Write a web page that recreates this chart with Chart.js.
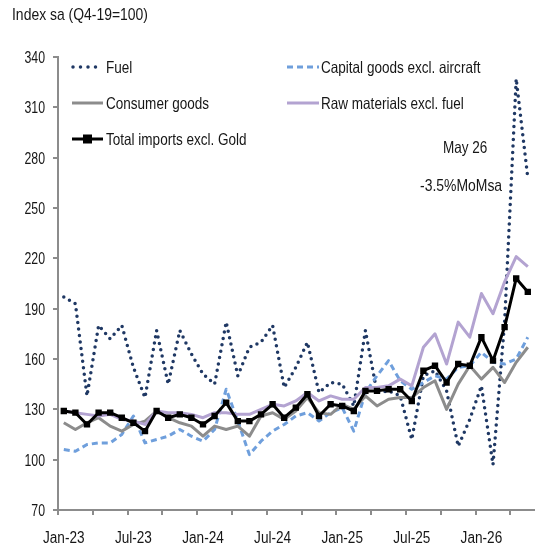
<!DOCTYPE html>
<html>
<head>
<meta charset="utf-8">
<script src="https://cdn.jsdelivr.net/npm/chart.js@4.4.0/dist/chart.umd.min.js"></script>
<style>
  html, body { margin: 0; padding: 0; background: #fff; }
  #wrap { position: relative; width: 540px; height: 551px; overflow: hidden; }
  #chart { position: absolute; left: 0; top: 0; }
  .txt {
    position: absolute;
    font-family: "Liberation Sans", Arial, sans-serif;
    color: #161616;
    white-space: nowrap;
    line-height: 1;
    transform: scaleX(0.82);
    transform-origin: left top;
  }
  .leg svg { position: absolute; }
</style>
</head>
<body>
<div id="wrap">
  <canvas id="chart" width="540" height="551"></canvas>

  <div class="txt" style="left:12px; top:6px; font-size:17px;">Index sa (Q4-19=100)</div>

  <!-- legenda em duas colunas dentro da área do gráfico -->
  <div class="leg">
    <svg style="left:70px; top:61px;" width="36" height="12">
      <line x1="3" y1="6" x2="33" y2="6" stroke="#1f3864" stroke-width="3.5" stroke-linecap="round" stroke-dasharray="0 7.5"/>
    </svg>
    <div class="txt" style="left:106px; top:59px; font-size:16.5px;">Fuel</div>

    <svg style="left:70px; top:97px;" width="36" height="12">
      <line x1="2" y1="6" x2="33" y2="6" stroke="#8c8c8c" stroke-width="3"/>
    </svg>
    <div class="txt" style="left:106px; top:95px; font-size:16.5px;">Consumer goods</div>

    <svg style="left:70px; top:131px;" width="36" height="16">
      <line x1="2" y1="8" x2="33" y2="8" stroke="#000" stroke-width="3"/>
      <rect x="13" y="3.5" width="9" height="9" fill="#000"/>
    </svg>
    <div class="txt" style="left:106px; top:131px; font-size:16.5px;">Total imports excl. Gold</div>

    <svg style="left:285px; top:61px;" width="36" height="12">
      <line x1="2" y1="6" x2="34" y2="6" stroke="#6f9fdc" stroke-width="3" stroke-dasharray="6 4"/>
    </svg>
    <div class="txt" style="left:321px; top:59px; font-size:16.5px;">Capital goods excl. aircraft</div>

    <svg style="left:285px; top:97px;" width="36" height="12">
      <line x1="2" y1="6" x2="34" y2="6" stroke="#b3a3d1" stroke-width="3"/>
    </svg>
    <div class="txt" style="left:321px; top:95px; font-size:16.5px;">Raw materials excl. fuel</div>
  </div>

  <div class="txt" style="left:443px; top:139px; font-size:16.5px;">May 26</div>
  <div class="txt" style="left:420px; top:177px; font-size:17px;">-3.5%MoMsa</div>
</div>

<script>
// ===== Importações por categoria, índice sa (Q4-19=100) =====

const months = [
  'Jan-23', 'Feb-23', 'Mar-23', 'Apr-23', 'May-23', 'Jun-23', 'Jul-23', 'Aug-23', 'Sep-23', 'Oct-23', 'Nov-23', 'Dec-23',
  'Jan-24', 'Feb-24', 'Mar-24', 'Apr-24', 'May-24', 'Jun-24', 'Jul-24', 'Aug-24', 'Sep-24', 'Oct-24', 'Nov-24', 'Dec-24',
  'Jan-25', 'Feb-25', 'Mar-25', 'Apr-25', 'May-25', 'Jun-25', 'Jul-25', 'Aug-25', 'Sep-25', 'Oct-25', 'Nov-25', 'Dec-25',
  'Jan-26', 'Feb-26', 'Mar-26', 'Apr-26', 'May-26'
];

const seriesNames = [
  'Fuel',
  'Capital goods excl. aircraft',
  'Consumer goods',
  'Raw materials excl. fuel',
  'Total imports excl. Gold'
];

const fuel = [
  197, 193, 138, 180, 172, 180, 155, 137, 177, 145, 177, 163,
  151, 145, 182, 150, 167, 170, 180, 143, 155, 170, 140, 146,
  145, 132, 177, 140, 141, 138, 112, 150, 153, 141, 108, 124,
  144, 97, 182, 327, 268
];

const capitalGoods = [
  106, 105, 109, 110, 110, 115, 126, 110, 112, 114, 118, 114,
  111, 118, 142, 123, 103, 111, 117, 121, 126, 128, 123, 128,
  131, 117, 140, 150, 159, 147, 142, 146, 150, 148, 155, 156,
  164, 158, 157, 160, 173
];

const consumerGoods = [
  122, 118, 122, 125, 120, 117, 121, 123, 129, 125, 122, 120,
  114, 120, 118, 120, 114, 126, 128, 124, 129, 137, 128, 127,
  133, 130, 138, 132, 136, 137, 137, 143, 147, 130, 145, 156,
  148, 155, 146, 158, 167
];

const rawMaterials = [
  129, 128, 127, 126, 127, 124, 123, 121, 129, 128, 128, 127,
  125, 128, 128, 127, 127, 130, 133, 132, 135, 140, 135, 138,
  136, 136, 143, 143, 144, 148, 144, 167, 175, 157, 182, 173,
  199, 187, 206, 221, 215
];

const totalImports = [
  129, 128, 121, 128, 128, 125, 122, 117, 129, 125, 127, 125,
  121, 126, 134, 123, 123, 127, 133, 125, 131, 139, 126, 133,
  132, 129, 141, 141, 142, 142, 135, 153, 156, 146, 157, 156,
  173, 159, 179, 208, 200
];

const yMin = 70;
const yMax = 340;
const yStep = 30;

const axisColor = '#8c8c8c';
const labelColor = '#161616';

// Rótulos dos eixos em fonte "estreita": não há Arial Narrow, então
// comprime a Liberation Sans na horizontal ao desenhar
const narrowLabels = {
  id: 'narrowLabels',
  afterDraw(chart) {
    const c = chart.ctx;
    const xs = chart.scales.x;
    const ys = chart.scales.y;

    c.save();
    c.fillStyle = labelColor;
    c.font = '16px "Liberation Sans", Arial, sans-serif';
    c.textBaseline = 'alphabetic';

    // eixo Y
    c.textAlign = 'right';
    ys.ticks.forEach((tick, i) => {
      const y = ys.getPixelForTick(i);
      c.save();
      c.translate(ys.right - 13, y + 6);
      c.scale(0.77, 1);
      c.fillText(String(tick.value), 0, 0);
      c.restore();
    });

    // eixo X, um rótulo a cada 6 meses
    c.textAlign = 'center';
    xs.ticks.forEach((tick, i) => {
      if (i % 6 !== 0) return;
      const x = xs.getPixelForTick(i);
      c.save();
      c.translate(x, xs.top + 32.5);
      c.scale(0.85, 1);
      c.fillText(months[i], 0, 0);
      c.restore();
    });
    c.restore();
  }
};

const ctx = document.getElementById('chart').getContext('2d');

new Chart(ctx, {
  type: 'line',
  data: {
    labels: months,
    datasets: [
      {
        label: seriesNames[4],
        data: totalImports,
        borderColor: '#000000',
        backgroundColor: '#000000',
        borderWidth: 3,
        pointStyle: 'rect',
        pointRadius: 4.5,
        pointBorderWidth: 0,
        order: 0
      },
      {
        label: seriesNames[3],
        data: rawMaterials,
        borderColor: '#b3a3d1',
        borderWidth: 3,
        pointRadius: 0,
        order: 1
      },
      {
        label: seriesNames[2],
        data: consumerGoods,
        borderColor: '#8c8c8c',
        borderWidth: 3,
        pointRadius: 0,
        order: 2
      },
      {
        label: seriesNames[1],
        data: capitalGoods,
        borderColor: '#6f9fdc',
        borderWidth: 3,
        borderDash: [6, 4],
        pointRadius: 0,
        order: 3
      },
      {
        label: seriesNames[0],
        data: fuel,
        borderColor: '#1f3864',
        borderWidth: 3.5,
        borderDash: [0, 6.5],
        borderCapStyle: 'round',
        pointRadius: 0,
        order: 4
      }
    ]
  },
  options: {
    responsive: false,
    animation: false,
    devicePixelRatio: 1,
    layout: {
      padding: { top: 57, right: 6.4, left: 0, bottom: 0 }
    },
    elements: {
      line: { tension: 0, borderJoinStyle: 'round' }
    },
    plugins: {
      legend: { display: false },
      tooltip: { enabled: false }
    },
    scales: {
      x: {
        offset: true,
        afterFit: (scale) => { scale.height = 41; },
        grid: {
          offset: true,
          drawOnChartArea: false,
          drawTicks: true,
          tickLength: 5,
          lineWidth: 2,
          // marcas a cada 3 meses, nas fronteiras entre categorias
          color: (c) => (c.index !== undefined && c.index % 3 === 0) ? axisColor : 'rgba(0,0,0,0)'
        },
        border: { display: true, color: axisColor, width: 2 },
        ticks: {
          display: false,
          autoSkip: false
        }
      },
      y: {
        min: yMin,
        max: yMax,
        afterFit: (scale) => { scale.width = 58; },
        grid: {
          drawOnChartArea: false,
          drawTicks: true,
          tickLength: 5,
          lineWidth: 2,
          color: axisColor
        },
        border: { display: true, color: axisColor, width: 2 },
        ticks: {
          display: false,
          stepSize: yStep
        }
      }
    }
  },
  plugins: [narrowLabels]
});
</script>
</body>
</html>
